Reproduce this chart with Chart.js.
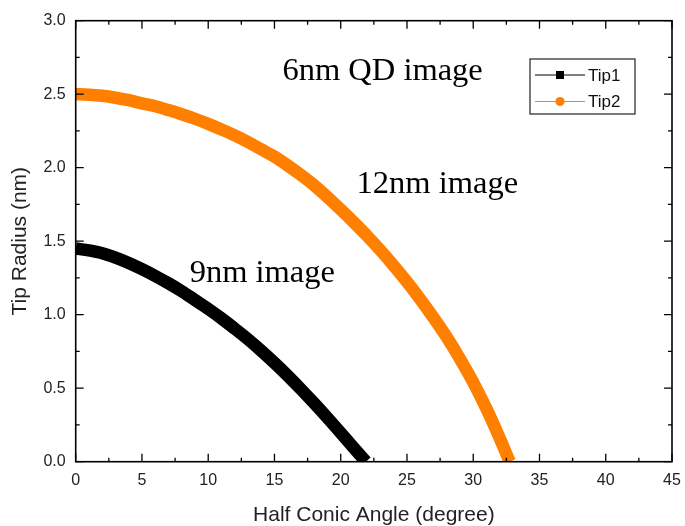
<!DOCTYPE html>
<html>
<head>
<meta charset="utf-8">
<script src="https://cdn.jsdelivr.net/npm/chart.js@4.4.1/dist/chart.umd.min.js"></script>
<style>
html,body{margin:0;padding:0;background:#fff;}
#c{display:block;}
</style>
</head>
<body>
<canvas id="c" width="685" height="526"></canvas>
<script>
// ---- data ----
const tip1Angles = [0,1,2,3,4,5,6,7,8,9,10,11,12,13,14,15,16,17,18,19,20,21,21.9];
const tip1Radius = [1.450,1.437,1.418,1.388,1.352,1.310,1.264,1.214,1.160,1.100,1.040,0.975,0.905,0.833,0.755,0.672,0.585,0.493,0.397,0.298,0.196,0.092,0];
const tip2Angles = [0,1,2,3,4,5,6,7,8,9,10,11,12,13,14,15,16,17,18,19,20,21,22,23,24,25,26,27,28,29,30,31,32,32.75];
const tip2Radius = [2.500,2.497,2.489,2.476,2.459,2.438,2.418,2.392,2.364,2.333,2.298,2.260,2.220,2.175,2.125,2.075,2.015,1.950,1.880,1.800,1.715,1.627,1.535,1.437,1.333,1.223,1.105,0.980,0.847,0.700,0.540,0.360,0.160,0];
const seriesNames = ['Tip1','Tip2'];
const xTickValues = [0,5,10,15,20,25,30,35,40,45];
const yTickValues = [0,0.5,1.0,1.5,2.0,2.5,3.0];
const annotations = [
  {text:'6nm QD image', x:15.6, y:2.60},
  {text:'12nm image', x:21.2, y:1.83},
  {text:'9nm image', x:8.6, y:1.22}
];

const ORANGE = '#ff8000';
const toPts = (xs, ys) => xs.map((x,i)=>({x:x, y:ys[i]}));

const framePlugin = {
  id:'frame',
  afterDatasetsDraw(chart){
    const {ctx, chartArea:a, scales:{x, y}} = chart;
    ctx.save();
    ctx.strokeStyle = '#000';
    ctx.lineWidth = 1.6;
    ctx.strokeRect(a.left, a.top, a.right-a.left, a.bottom-a.top);
    ctx.lineWidth = 1.3;
    ctx.beginPath();
    for (let v = 0; v <= 45.001; v += 2.5) {
      const px = x.getPixelForValue(v);
      const len = (Math.abs(v/5 - Math.round(v/5)) < 1e-6) ? 8 : 4;
      ctx.moveTo(px, a.bottom); ctx.lineTo(px, a.bottom - len);
      ctx.moveTo(px, a.top); ctx.lineTo(px, a.top + len);
    }
    for (let v = 0; v <= 3.0001; v += 0.25) {
      const py = y.getPixelForValue(v);
      const len = (Math.abs(v/0.5 - Math.round(v/0.5)) < 1e-6) ? 8 : 4;
      ctx.moveTo(a.left, py); ctx.lineTo(a.left + len, py);
      ctx.moveTo(a.right, py); ctx.lineTo(a.right - len, py);
    }
    ctx.stroke();

    // annotations
    ctx.fillStyle = '#000';
    ctx.font = '32.5px "Liberation Serif", "Times New Roman", serif';
    ctx.textBaseline = 'alphabetic';
    ctx.textAlign = 'left';
    annotations.forEach(an => {
      ctx.fillText(an.text, x.getPixelForValue(an.x), y.getPixelForValue(an.y));
    });

    // legend
    const lx = 530, ly = 59, lw = 105, lh = 55;
    ctx.fillStyle = '#fff';
    ctx.fillRect(lx, ly, lw, lh);
    ctx.lineWidth = 1.2;
    ctx.strokeStyle = '#222';
    ctx.strokeRect(lx, ly, lw, lh);
    const rows = [
      {name: seriesNames[0], color:'#000', y: 75, shape:'rect'},
      {name: seriesNames[1], color: ORANGE, y: 101.5, shape:'circle'}
    ];
    ctx.font = '17px "Liberation Sans", Arial, sans-serif';
    ctx.textBaseline = 'middle';
    rows.forEach(r => {
      ctx.strokeStyle = r.color;
      ctx.lineWidth = 1;
      ctx.beginPath(); ctx.moveTo(535, r.y); ctx.lineTo(585, r.y); ctx.stroke();
      ctx.fillStyle = r.color;
      if (r.shape === 'rect') { ctx.fillRect(556, r.y-4, 8, 8); }
      else { ctx.beginPath(); ctx.arc(560, r.y, 4.6, 0, Math.PI*2); ctx.fill(); }
      ctx.fillStyle = '#111';
      ctx.fillText(r.name, 588, r.y + 1);
    });
    ctx.restore();
  }
};

const lineStyle = {showLine:true, borderWidth:12.5, pointRadius:0, cubicInterpolationMode:'monotone', clip:0, borderCapStyle:'butt', borderJoinStyle:'round'};

new Chart(document.getElementById('c'), {
  type: 'scatter',
  data: {
    datasets: [
      Object.assign({label: seriesNames[0], data: toPts(tip1Angles, tip1Radius), borderColor:'#000', backgroundColor:'#000'}, lineStyle),
      Object.assign({label: seriesNames[1], data: toPts(tip2Angles, tip2Radius), borderColor:ORANGE, backgroundColor:ORANGE}, lineStyle)
    ]
  },
  options: {
    responsive:false,
    animation:false,
    devicePixelRatio:1,
    layout:{padding:{top:20.7, right:13, left:0, bottom:0}},
    plugins:{legend:{display:false}, tooltip:{enabled:false}},
    scales:{
      x:{
        type:'linear', min:0, max:45,
        afterBuildTicks(s){ s.ticks = xTickValues.map(v=>({value:v})); },
        afterFit(s){ s.height = 64.3; s.paddingLeft = 0; s.paddingRight = 0; },
        grid:{display:false, drawTicks:false},
        border:{display:false},
        ticks:{padding:9, color:'#222', font:{family:'"Liberation Sans", Arial, sans-serif', size:16}, maxRotation:0,
               callback:v=>String(v)},
        title:{display:true, text:'Half Conic Angle (degree)', color:'#222',
               font:{family:'"Liberation Sans", Arial, sans-serif', size:21, lineHeight:1}, padding:{top:0,bottom:0.5}}
      },
      y:{
        type:'linear', min:0, max:3,
        afterBuildTicks(s){ s.ticks = yTickValues.map(v=>({value:v})); },
        afterFit(s){ s.width = 75.7; s.paddingTop = 0; s.paddingBottom = 0; },
        grid:{display:false, drawTicks:false},
        border:{display:false},
        ticks:{padding:10, color:'#222', font:{family:'"Liberation Sans", Arial, sans-serif', size:16},
               callback:v=>Number(v).toFixed(1)},
        title:{display:true, text:'Tip Radius (nm)', color:'#222',
               font:{family:'"Liberation Sans", Arial, sans-serif', size:21, lineHeight:1}, padding:{top:9.5,bottom:0}}
      }
    }
  },
  plugins:[framePlugin]
});
</script>
</body>
</html>
